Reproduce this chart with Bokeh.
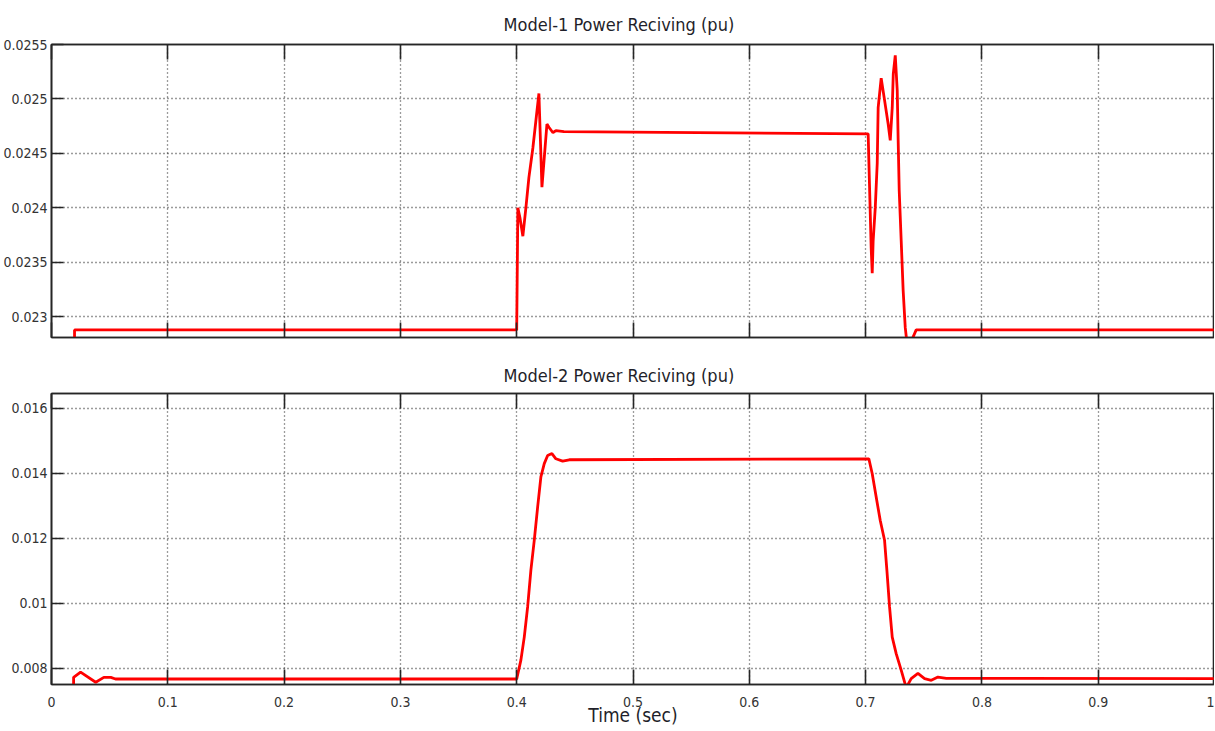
from bokeh.plotting import figure
from bokeh.layouts import column
from bokeh.models import FixedTicker, LinearAxis, Range1d, CustomLabelingPolicy
from bokeh.embed import file_html
from bokeh.resources import INLINE

# ---------------- data ----------------
time1 = [0.0, 0.0197, 0.0198, 0.4, 0.4008, 0.401, 0.4028, 0.4053, 0.4079, 0.4105,
         0.4139, 0.4165, 0.4191, 0.4217, 0.426, 0.4277, 0.4312, 0.4337, 0.4406,
         0.7022, 0.7031, 0.704, 0.7048, 0.7057, 0.7065, 0.7083, 0.71, 0.7108,
         0.7134, 0.716, 0.7194, 0.7212, 0.7229, 0.7238, 0.7255, 0.7272, 0.728,
         0.7289, 0.7306, 0.7323, 0.7341, 0.7362, 0.7435, 1.0]
power1 = [0.0, 0.0, 0.02288, 0.02288, 0.02379, 0.0240, 0.02391, 0.02374, 0.0240, 0.02428,
          0.02455, 0.0248, 0.02505, 0.02419, 0.02477, 0.02474, 0.02469, 0.02471, 0.0247,
          0.02468, 0.02431, 0.02395, 0.02363, 0.0234, 0.0237, 0.024, 0.02441, 0.02492,
          0.02519, 0.02501, 0.02477, 0.02462, 0.02492, 0.02523, 0.0254, 0.02508, 0.02462,
          0.02416, 0.0237, 0.02324, 0.0229, 0.0227, 0.02288, 0.02288]

time2 = [0.0, 0.0188, 0.019, 0.025, 0.038, 0.045, 0.051, 0.055, 0.4,
         0.4036, 0.4065, 0.4094, 0.4122, 0.4151, 0.418, 0.4208, 0.4237, 0.4266,
         0.4303, 0.4337, 0.4395, 0.4452, 0.7028, 0.7057, 0.7091, 0.7126, 0.7163,
         0.7183, 0.7206, 0.7229, 0.7263, 0.7306, 0.7349, 0.7392, 0.745, 0.7507,
         0.7565, 0.7622, 0.7694, 1.0]
power2 = [0.0, 0.0, 0.00772, 0.00788, 0.00757, 0.00772, 0.00772, 0.00767, 0.00767,
          0.00825, 0.00896, 0.00989, 0.01102, 0.01194, 0.01296, 0.01389, 0.0143, 0.01455,
          0.01461, 0.01445, 0.01438, 0.01442, 0.01445, 0.01399, 0.01327, 0.01255, 0.01194,
          0.01102, 0.00989, 0.00896, 0.00845, 0.00794, 0.0074, 0.00768, 0.00784, 0.00768,
          0.00763, 0.00773, 0.00769, 0.00768]

x_ticks = [0.0, 0.1, 0.2, 0.3, 0.4, 0.5, 0.6, 0.7, 0.8, 0.9, 1.0]
x_tick_labels = ["0", "0.1", "0.2", "0.3", "0.4", "0.5", "0.6", "0.7", "0.8", "0.9", "1"]
y1_ticks = [0.023, 0.0235, 0.024, 0.0245, 0.025, 0.0255]
y1_tick_labels = ["0.023", "0.0235", "0.024", "0.0245", "0.025", "0.0255"]
y2_ticks = [0.008, 0.010, 0.012, 0.014, 0.016]
y2_tick_labels = ["0.008", "0.01", "0.012", "0.014", "0.016"]
titles = ["Model-1 Power Reciving (pu)", "Model-2 Power Reciving (pu)"]
x_label = "Time (sec)"

# ---------------- style ----------------
FONT = "Liberation Sans Narrow, DejaVu Sans Condensed, Liberation Sans, sans-serif"
FRAME = "#262626"
TXT = "#333333"
HIDE_LABELS = """
for (const i of indices) {
    indices.unset(i)
}
return indices
"""


def style_axis(ax, ticks, labels=None, show_labels=True, tick_in=12):
    ax.ticker = FixedTicker(ticks=ticks)
    if labels is not None:
        ax.major_label_overrides = {t: l for t, l in zip(ticks, labels)}
    ax.major_tick_in = tick_in
    ax.major_tick_out = 0
    ax.minor_tick_line_color = None
    ax.major_tick_line_color = FRAME
    ax.major_tick_line_width = 1.6
    ax.axis_line_color = FRAME
    ax.axis_line_width = 1.6
    ax.major_label_text_font = FONT
    ax.major_label_text_color = TXT
    ax.major_label_text_font_size = "14px"
    if not show_labels:
        ax.major_label_policy = CustomLabelingPolicy(code=HIDE_LABELS)
        ax.major_label_text_font_size = "2px"
        ax.major_label_standoff = 0


def make_panel(title, t, p, yr, yticks, ylabels, height, border_top, border_bottom,
               xlabels, title_standoff):
    fig = figure(width=1214, height=height, output_backend="svg", toolbar_location=None,
                 x_range=Range1d(0, 1), y_range=Range1d(*yr),
                 min_border_left=51, min_border_right=0,
                 min_border_top=border_top, min_border_bottom=border_bottom)
    fig.title.text = title
    fig.title.align = "left"
    fig.title.offset = 452
    fig.title.text_font = FONT
    fig.title.text_font_size = "18px"
    fig.title.text_font_style = "normal"
    fig.title.text_color = "#1f1f2a"
    fig.title.standoff = title_standoff
    fig.outline_line_color = FRAME
    fig.outline_line_width = 1.6
    fig.outline_line_alpha = 1.0
    fig.background_fill_color = "white"
    fig.border_fill_color = "white"

    bottom = fig.below[0]
    style_axis(bottom, x_ticks, x_tick_labels, show_labels=xlabels, tick_in=15)
    style_axis(fig.yaxis[0], yticks, ylabels, show_labels=True, tick_in=12)
    fig.yaxis[0].major_label_standoff = 4

    top = LinearAxis()
    style_axis(top, x_ticks, None, show_labels=False, tick_in=15)
    fig.add_layout(top, "above")

    for g, tk in ((fig.xgrid[0], x_ticks), (fig.ygrid[0], yticks)):
        g.ticker = FixedTicker(ticks=tk)
        g.grid_line_color = "#222222"
        g.grid_line_dash = "1 3"
        g.grid_line_width = 1.3
        g.grid_line_alpha = 0.9

    fig.line(t, p, line_color="#ff0000", line_width=2.8)
    return fig, bottom


p1, b1 = make_panel(titles[0], time1, power1, (0.02281, 0.0255), y1_ticks, y1_tick_labels,
                    350, 44, 13, False, 9)
p2, b2 = make_panel(titles[1], time2, power2, (0.0075, 0.01646), y2_ticks, y2_tick_labels,
                    380, 43, 46, True, 6)
b2.axis_label = x_label
b2.axis_label_text_font = FONT
b2.axis_label_text_font_size = "19px"
b2.axis_label_text_font_style = "normal"
b2.axis_label_text_color = "#1f1f2a"
b2.major_label_standoff = 12
b2.axis_label_standoff = -6

layout = column(p1, p2, spacing=0)
open("out.html", "w").write(file_html(layout, INLINE))
